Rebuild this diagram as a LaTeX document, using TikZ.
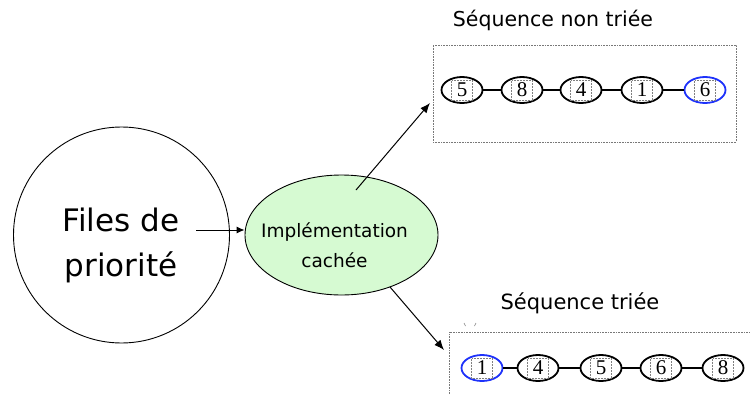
\documentclass[tikz,border=0pt]{standalone}
\usepackage{fontspec}
\setmainfont{DejaVu Sans}
\newfontfamily\numfont{Liberation Serif}
\usetikzlibrary{arrows.meta,shapes.geometric}
\definecolor{lightgreen}{RGB}{214,250,210}
\definecolor{nodeblue}{RGB}{30,50,250}
\definecolor{boxgray}{RGB}{120,120,120}
\begin{document}
\begin{tikzpicture}[x=1pt,y=-1pt,
  num/.style={ellipse, draw, line width=1.8pt, minimum width=41pt, minimum height=26pt, inner sep=0pt,
    font=\numfont\fontsize{21}{21}\selectfont},
  bluenum/.style={num, draw=nodeblue},
  seqbox/.style={draw=boxgray, densely dotted, line width=0.6pt, inner sep=0pt},
  link/.style={line width=2pt},
  arr/.style={line width=1pt, -{Latex[length=10pt,width=8pt]}},
  title/.style={font=\fontsize{20.5}{24}\selectfont}]
\clip (0,0) rectangle (750,394);
% big circle
\node[circle, draw, line width=0.9pt, minimum size=216pt, inner sep=0pt] (pq) at (121.5,235) {};
\node[align=center, font=\fontsize{31}{45}\selectfont] (pqtext) at (121,245) {Files de\\priorité};
% hidden implementation
\node[ellipse, draw, line width=0.9pt, fill=lightgreen, minimum width=193pt, minimum height=120pt, inner sep=0pt] (impl) at (341.5,235) {};
\node[align=center, font=\fontsize{18.5}{30}\selectfont] (impltext) at (334.5,245) {Implémentation\\cachée};
\coordinate (a0) at (196,230);
\draw[line width=1pt, -{Latex[length=8pt,width=7pt]}] (a0) -- (a0 -| impl.west);
% top sequence
\node[title] (t1) at (553,20) {Séquence non triée};
\node[seqbox, minimum width=303pt, minimum height=97pt] (box1) at (584.5,93.5) {};
\node[num] (u1) at (462,90) {5};
\node[num] (u2) at (522,90) {8};
\node[num] (u3) at (581,90) {4};
\node[num] (u4) at (642,90) {1};
\node[bluenum] (u5) at (705,90) {6};
\draw[link] (u1) -- (u2) (u2) -- (u3) (u3) -- (u4) (u4) -- (u5);
% bottom sequence
\node[title, font=\fontsize{21}{24}\selectfont] (t2) at (580,303) {Séquence triée};
\node[seqbox, minimum width=311pt, minimum height=88pt] (box2) at (604.5,376) {};
\node[bluenum] (s1) at (482,368) {1};
\node[num] (s2) at (538,368) {4};
\node[num] (s3) at (601,368) {5};
\node[num] (s4) at (661,368) {6};
\node[num] (s5) at (723,368) {8};
\draw[link] (s1) -- (s2) (s2) -- (s3) (s3) -- (s4) (s4) -- (s5);
% dotted frames inside the numbers
\foreach \n in {u1,u2,u3,u4,u5,s1,s2,s3,s4,s5}{
  \draw[gray, densely dotted, line width=0.5pt] ([shift={(-10.5,-9.5)}]\n.center) rectangle ([shift={(10.5,10.5)}]\n.center);
}
% arrows
\coordinate (b0) at (356,190);
\coordinate (b1) at (430,103);
\coordinate (c0) at (390,287);
\coordinate (c1) at (444,350);
\draw[arr] (b0) -- (b1);
\draw[arr] (c0) -- (c1);
% small ticks
\coordinate (k1) at (464,323);
\coordinate (k2) at (476,323);
\draw[gray, line width=0.6pt] (k1) -- ++(1.5,3);
\draw[gray, line width=0.6pt] (k2) -- ++(-1.5,3);
\end{tikzpicture}
\end{document}
